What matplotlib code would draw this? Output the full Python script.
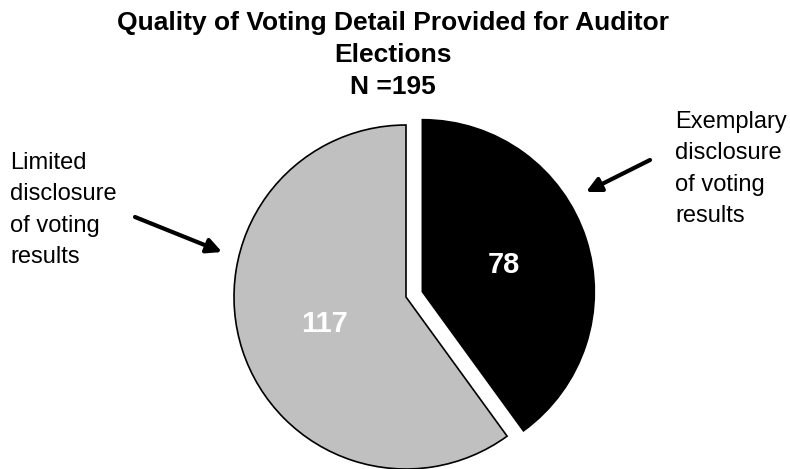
import matplotlib
matplotlib.use('Agg')
import matplotlib.pyplot as plt

plt.rcParams['font.family'] = ['Liberation Sans', 'DejaVu Sans']

# ── Data ──────────────────────────────────────────────────────────────────────
categories = ['Exemplary\ndisclosure\nof voting\nresults',
              'Limited\ndisclosure\nof voting\nresults']
counts = [78, 117]
slice_colors = ['#000000', '#c0c0c0']
explode = [0.1, 0.0]
title = 'Quality of Voting Detail Provided for Auditor\nElections\nN =195'

W, H = 790, 469
R = 172.0                 # pie radius in pixels
cx, cy = 406, 297         # pie centre in pixels (from top-left)

fig = plt.figure(figsize=(W / 100, H / 100), dpi=100)
ax = fig.add_axes([0, 0, 1, 1])

total = sum(counts)
wedges, texts, autotexts = ax.pie(
    counts, colors=slice_colors, explode=explode, startangle=90,
    counterclock=False, radius=1.0, pctdistance=0.5,
    autopct=lambda p: f'{round(p * total / 100):.0f}',
    wedgeprops=dict(edgecolor='black', linewidth=1.2),
    textprops=dict(color='white', fontsize=21, fontweight='bold'),
)
# pie() resets the limits, so place the pie afterwards
ax.set_xlim(-cx / R, (W - cx) / R)
ax.set_ylim(-(H - cy) / R, cy / R)
ax.set_aspect('equal', adjustable='datalim')
ax.axis('off')


def px(x, y):
    return (x / W, 1 - y / H)


fig.text(*px(393, 55), title, ha='center', va='center', fontsize=19,
         fontweight='bold', linespacing=1.42)

fig.text(*px(675, 169), categories[0], ha='left', va='center', fontsize=17,
         linespacing=1.53)
fig.text(*px(10, 210), categories[1], ha='left', va='center', fontsize=17,
         linespacing=1.55)

arrow = dict(arrowstyle='-|>', color='black', lw=3, mutation_scale=22,
             shrinkA=0, shrinkB=0)
ax.annotate('', xy=px(586, 192), xytext=px(650, 160),
            xycoords='figure fraction', textcoords='figure fraction',
            arrowprops=arrow)
ax.annotate('', xy=px(222, 252), xytext=px(135, 217),
            xycoords='figure fraction', textcoords='figure fraction',
            arrowprops=arrow)

fig.savefig('out.png', dpi=100)
